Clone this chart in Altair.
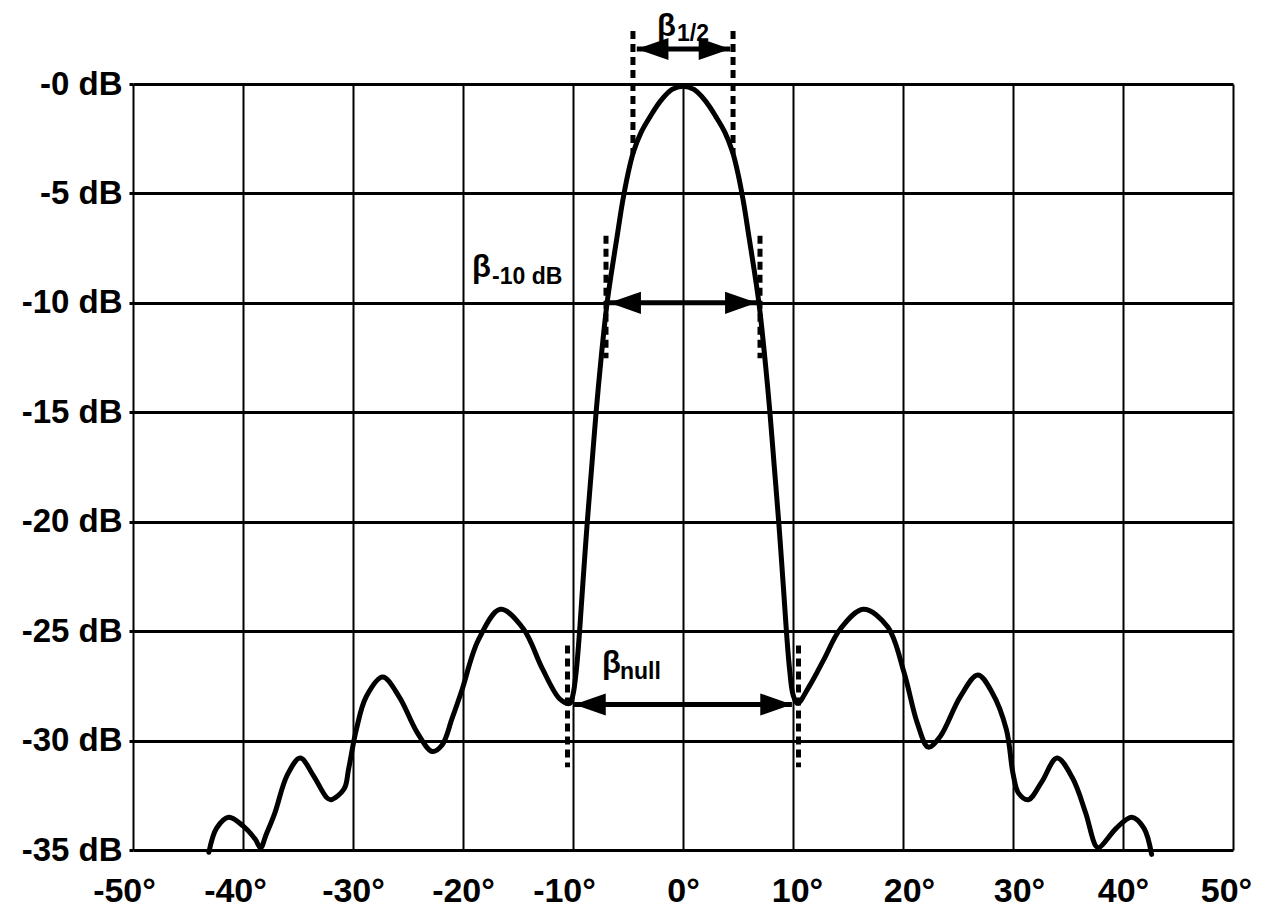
import altair as alt
import pandas as pd

# ---------------- data ----------------
# radiation pattern: angle (degrees) and level (dB)
LEFT_ANGLE = [-43.1, -42.4, -41.3, -40.0, -38.9, -38.4, -37.9, -37.1, -36.0, -34.8,
              -33.6, -32.4, -32.0, -30.8, -30.4, -29.7, -28.8, -27.3, -25.8, -24.2,
              -22.8, -21.9, -21.0, -20.1, -18.6, -16.6, -14.5, -12.8, -11.2, -10.3]
LEFT_LEVEL = [-35.1, -34.0, -33.5, -33.9, -34.5, -34.9, -34.3, -33.3, -31.6, -30.8,
              -31.6, -32.6, -32.7, -32.2, -31.3, -29.5, -28.0, -27.1, -28.0, -29.6,
              -30.5, -30.2, -29.0, -27.7, -25.4, -24.0, -24.9, -26.7, -28.1, -28.3]
MAIN_ANGLE = [-10.0, -9.7, -9.4, -9.1, -8.7, -8.3, -7.9, -7.4, -6.9, -6.5, -6.0, -5.5, -5.0, -4.5,
              -3.8, -3.0, -2.0, -1.0, 0.0, 1.0, 2.0, 3.0, 3.8, 4.5, 5.0, 5.5, 6.0, 6.5, 6.9,
              7.4, 7.9, 8.3, 8.7, 9.1, 9.4, 9.7, 10.0]
MAIN_LEVEL = [-27.9, -26.8, -25.0, -22.8, -20.0, -17.5, -15.0, -12.3, -10.0, -8.6, -7.0, -5.4, -4.1, -3.1,
              -2.2, -1.5, -0.75, -0.25, -0.1, -0.25, -0.75, -1.5, -2.2, -3.1, -4.1, -5.4, -7.0, -8.6, -10.0,
              -12.3, -15.0, -17.5, -20.0, -22.8, -25.0, -26.8, -27.9]
RIGHT_ANGLE = [10.4, 11.5, 12.8, 14.3, 16.4, 18.6, 20.1, 21.3, 22.3, 23.4, 25.2, 26.8, 28.1,
               29.4, 30.0, 30.5, 31.4, 32.6, 34.0, 35.4, 36.6, 37.5, 37.8, 39.4, 40.8, 41.9, 42.6]
RIGHT_LEVEL = [-28.3, -27.5, -26.3, -24.9, -24.0, -24.8, -26.9, -29.2, -30.3, -29.8, -28.0, -27.0, -27.8,
               -29.5, -31.5, -32.4, -32.7, -31.9, -30.8, -31.7, -33.3, -34.8, -34.9, -34.0, -33.5, -34.0, -35.2]

# axis ticks and their labels
X_TICKS = [-50, -40, -30, -20, -10, 0, 10, 20, 30, 40, 50]
X_LABELS = ["-50°", "-40°", "-30°", "-20°", "-10°", "0°", "10°", "20°", "30°", "40°", "50°"]
Y_TICKS = [0, -5, -10, -15, -20, -25, -30, -35]
Y_LABELS = ["-0 dB", "-5 dB", "-10 dB", "-15 dB", "-20 dB", "-25 dB", "-30 dB", "-35 dB"]

# beamwidth markers (dashed verticals)
DASH_ANGLE = [-4.55, 4.55, -7.0, 7.0, -10.5, 10.5]
DASH_TOP = [2.42, 2.42, -6.93, -6.93, -25.66, -25.66]
DASH_BOTTOM = [-3.19, -3.19, -12.53, -12.53, -31.22, -31.22]

# double arrows
ARROW_FROM = [-4.2, -6.7, -9.9]
ARROW_TO = [4.3, 6.7, 9.9]
ARROW_LEVEL = [1.6, -10.0, -28.35]

# beamwidth labels
BETA_TEXT = ["β", "β", "β"]
BETA_ANGLE = [-2.36, -19.18, -7.36]
BETA_LEVEL = [2.2, -8.80, -26.92]
SUB_TEXT = ["1/2", "-10 dB", "null"]
SUB_ANGLE = [-0.55, -17.36, -5.73]
SUB_LEVEL = [1.95, -9.12, -27.2]

# ---------------- tables ----------------
angles = LEFT_ANGLE + MAIN_ANGLE + RIGHT_ANGLE
levels = LEFT_LEVEL + MAIN_LEVEL + RIGHT_LEVEL
curve = pd.DataFrame({"angle": angles, "level": levels, "order": list(range(len(angles)))})
dashes = pd.DataFrame({"angle": DASH_ANGLE, "top": DASH_TOP, "bottom": DASH_BOTTOM})
arrows = pd.DataFrame({"a0": ARROW_FROM, "a1": ARROW_TO, "level": ARROW_LEVEL})
heads_l = pd.DataFrame({"angle": ARROW_FROM, "level": ARROW_LEVEL})
heads_r = pd.DataFrame({"angle": ARROW_TO, "level": ARROW_LEVEL})
betas = pd.DataFrame({"t": BETA_TEXT, "angle": BETA_ANGLE, "level": BETA_LEVEL})
subs = pd.DataFrame({"t": SUB_TEXT, "angle": SUB_ANGLE, "level": SUB_LEVEL})


def label_expr(ticks, labels):
    expr = "''"
    for t, l in reversed(list(zip(ticks, labels))):
        expr = f"datum.value == {t} ? '{l}' : ({expr})"
    return expr


FONT = "Liberation Sans"
xscale = alt.Scale(domain=[-50, 50], nice=False, zero=False)
yscale = alt.Scale(domain=[-35, 0], nice=False, zero=False)

x_label_offset = {
    "condition": [
        {"test": "datum.value == -50", "value": -9},
        {"test": "datum.value == -40", "value": -8},
        {"test": "datum.value == -10", "value": -9},
        {"test": "datum.value == 10", "value": 4},
        {"test": "datum.value == 20", "value": 6},
        {"test": "datum.value == 30", "value": 6},
        {"test": "datum.value == 50", "value": -7},
    ],
    "value": 0,
}

x_axis = alt.Axis(values=X_TICKS, labelExpr=label_expr(X_TICKS, X_LABELS), title=None,
                  labelFont=FONT, labelFontWeight="bold", labelFontSize=34, labelColor="black",
                  labelPadding=24, labelOffset=x_label_offset, ticks=False, domain=False,
                  grid=True, gridColor="black", gridWidth=2, gridOpacity=1,
                  labelFlush=False, labelOverlap=False, labelBound=False)
y_axis = alt.Axis(values=Y_TICKS, labelExpr=label_expr(Y_TICKS, Y_LABELS), title=None,
                  labelFont=FONT, labelFontWeight="bold", labelFontSize=33, labelColor="black",
                  labelPadding=7, ticks=True, tickSize=4, tickWidth=3, tickColor="black",
                  domain=False, grid=True, gridColor="black", gridWidth=3, gridOpacity=1,
                  labelFlush=False, labelOverlap=False)


def X(field):
    return alt.X(field, type="quantitative", scale=xscale, axis=x_axis, title=None)


def Y(field):
    return alt.Y(field, type="quantitative", scale=yscale, axis=y_axis, title=None)


line = alt.Chart(curve).mark_line(interpolate="catmull-rom", color="black", strokeWidth=5,
                                  strokeCap="round", strokeJoin="round").encode(
    x=X("angle"), y=Y("level"), order="order:Q",
)

dash = alt.Chart(dashes).mark_rule(color="black", strokeWidth=5, strokeDash=[8, 5],
                                   strokeCap="butt").encode(
    x=X("angle"), y=Y("top"), y2="bottom:Q",
)

shaft = alt.Chart(arrows).mark_rule(color="black", strokeWidth=5).encode(
    x=X("a0"), x2="a1:Q", y=Y("level"),
)

head_left = alt.Chart(heads_l).mark_point(shape="M0,0L2,-0.7L2,0.7Z", filled=True, color="black",
                                          opacity=1, size=1000).encode(x=X("angle"), y=Y("level"))
head_right = alt.Chart(heads_r).mark_point(shape="M0,0L-2,-0.7L-2,0.7Z", filled=True, color="black",
                                           opacity=1, size=1000).encode(x=X("angle"), y=Y("level"))

beta = alt.Chart(betas).mark_text(align="left", baseline="alphabetic", font=FONT, fontWeight="bold",
                                  fontSize=31, color="black").encode(
    x=X("angle"), y=Y("level"), text="t:N",
)
sub = alt.Chart(subs).mark_text(align="left", baseline="alphabetic", font=FONT, fontWeight="bold",
                                fontSize=23, color="black").encode(
    x=X("angle"), y=Y("level"), text="t:N",
)

chart = alt.layer(line, dash, shaft, head_left, head_right, beta, sub).properties(
    width=1100, height=766,
    padding={"left": 125, "top": 76, "right": 20, "bottom": 57},
    autosize=alt.AutoSizeParams(type="none"),
    background="white",
).configure_view(stroke=None)

chart.save("out.html", embed_options={"renderer": "svg", "actions": False})
